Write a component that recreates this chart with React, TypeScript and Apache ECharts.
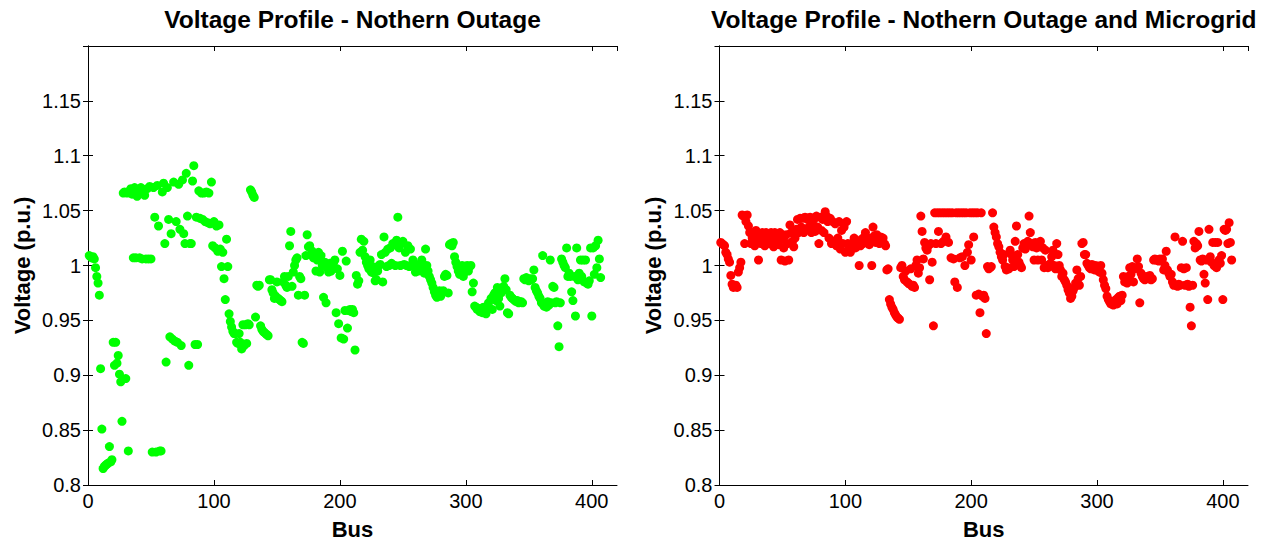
import React, { useEffect, useRef } from "react";
import * as echarts from "echarts";

// Voltage (p.u.) per bus, bus numbers start at 1
const leftVoltage: number[] = [
  1.009, 1.008, 1.007, 1.008, 1.006, 0.998, 0.99, 0.984, 0.973, 0.906,
  0.851, 0.815, 0.817, 0.818, 0.819, 0.82, 0.835, 0.821, 0.823, 0.93,
  0.909, 0.93, 0.911, 0.918, 0.901, 0.894, 0.858, 1.066, 1.067, 0.897,
  1.066, 0.831, 1.068, 1.07, 1.065, 1.007, 1.071, 1.007, 1.063, 1.069,
  1.007, 1.071, 1.006, 1.068, 1.064, 1.006, 1.07, 1.006, 1.072, 1.006,
  0.83, 1.071, 1.044, 0.83, 1.073, 1.036, 0.831, 0.831, 1.067, 1.075,
  1.02, 0.912, 1.071, 1.042, 0.935, 1.029, 0.933, 1.076, 0.931, 1.04,
  0.93, 1.074, 1.033, 0.927, 1.078, 1.029, 1.02, 1.084, 1.045, 0.909,
  1.02, 1.02, 1.077, 1.091, 0.928, 1.044, 0.928, 1.068, 1.043, 1.066,
  1.042, 1.066, 1.04, 1.067, 1.039, 1.066, 1.038, 1.076, 1.018, 1.04,
  1.016, 1.036, 1.013, 1.037, 1.015, 0.999, 1.012, 0.988, 0.969, 1.024,
  0.999, 0.956, 0.949, 0.944, 0.94, 0.938, 0.938, 0.93, 0.929, 0.938,
  0.93, 0.924, 0.946, 0.927, 0.946, 0.929, 0.947, 0.946, 1.069, 1.067,
  1.064, 1.062, 0.953, 0.982, 0.981, 0.982, 0.945, 0.942, 0.94, 0.939,
  0.938, 0.937, 0.936, 0.987, 0.987, 0.978, 0.975, 0.97, 0.972, 0.985,
  0.97, 0.969, 0.968, 0.967, 0.985, 0.99, 0.982, 0.98, 0.99, 1.018,
  1.031, 0.981, 0.994, 1.0, 1.005, 1.007, 0.973, 0.99, 0.988, 0.93,
  0.929, 0.973, 1.009, 1.028, 1.017, 1.018, 1.01, 1.013, 1.007, 1.01,
  0.995, 1.005, 1.012, 0.994, 1.009, 1.0, 0.971, 1.003, 0.966, 0.998,
  0.994, 1.002, 0.995, 0.999, 1.003, 1.005, 0.957, 0.997, 0.947, 0.991,
  0.934, 1.013, 0.933, 0.959, 1.004, 0.943, 0.959, 0.96, 0.958, 0.96,
  0.957, 0.923, 0.991, 0.983, 0.986, 1.012, 1.024, 1.014, 1.022, 1.008,
  1.003, 1.0, 0.997, 1.005, 0.994, 0.999, 0.993, 0.986, 0.987, 0.995,
  1.0, 1.001, 1.01, 0.985, 1.026, 1.012, 0.999, 1.015, 1.0, 1.016,
  1.002, 1.02, 1.019, 1.0, 1.023, 1.044, 1.016, 1.0, 1.02, 1.022,
  1.001, 1.012, 1.0, 1.018, 0.999, 1.015, 1.0, 1.005, 1.0, 0.994,
  0.996, 0.995, 1.0, 1.002, 1.005, 0.996, 0.993, 1.015, 1.0, 0.995,
  0.99, 0.987, 0.984, 0.98, 0.976, 0.973, 0.971, 0.974, 0.977, 0.972,
  0.975, 0.977, 0.99, 0.992, 0.991, 0.975, 1.019, 1.02, 1.018, 1.021,
  1.008, 1.003, 0.999, 0.995, 0.992, 0.997, 1.0, 0.99, 0.994, 0.998,
  1.0, 0.995, 0.999, 1.0, 0.976, 0.984, 0.963, 0.962, 0.96, 0.961,
  0.958, 0.96, 0.957, 0.962, 0.958, 0.956, 0.963, 0.966, 0.961, 0.97,
  0.96, 0.973, 0.975, 0.968, 0.98, 0.97, 0.963, 0.975, 0.978, 0.981,
  0.988, 0.978, 0.957, 0.956, 0.973, 0.971, 0.97, 0.969, 0.968, 0.967,
  0.968, 0.966, 0.967, 0.967, 0.966, 0.988, 0.987, 0.989, 0.988, 0.986,
  0.988, 0.987, 0.988, 0.996, 0.98, 0.977, 0.975, 0.972, 0.97, 0.966,
  1.009, 0.963, 0.965, 0.962, 0.967, 0.964, 1.005, 0.966, 0.981, 0.98,
  0.966, 0.967, 0.945, 0.926, 0.966, 1.006, 1.003, 1.0, 0.998, 1.016,
  0.99, 0.993, 0.99, 0.976, 0.968, 0.99, 0.954, 1.016, 0.987, 0.993,
  1.005, 0.99, 1.005, 0.985, 1.005, 0.984, 0.983, 0.986, 1.016, 0.954,
  1.016, 0.992, 1.018, 0.998, 1.023, 1.006, 0.989,
];

const rightVoltage: number[] = [
  1.021, 1.02, 1.019, 1.018, 1.012, 1.01, 1.006, 1.003, 0.991, 0.983,
  0.98, 0.981, 0.982, 0.98, 0.994, 0.998, 1.003, 1.046, 1.045, 1.02,
  1.04, 1.046, 1.036, 1.03, 1.02, 1.025, 1.03, 1.018, 1.032, 1.022,
  1.005, 1.027, 1.02, 1.03, 1.024, 1.018, 1.03, 1.022, 1.028, 1.02,
  1.03, 1.025, 1.017, 1.03, 1.022, 1.028, 1.019, 1.03, 1.005, 1.024,
  1.016, 1.004, 1.028, 1.02, 1.005, 1.037, 1.03, 1.022, 1.017, 1.025,
  1.033, 1.042, 1.03, 1.043, 1.035, 1.043, 1.03, 1.044, 1.033, 1.042,
  1.035, 1.044, 1.03, 1.036, 1.042, 1.031, 1.045, 1.035, 1.02, 1.044,
  1.032, 1.042, 1.03, 1.049, 1.045, 1.04, 1.025, 1.043, 1.02, 1.04,
  1.022, 1.038, 1.018, 1.025, 1.04, 1.015, 1.032, 1.02, 1.035, 1.012,
  1.04, 1.02, 1.016, 1.012, 1.02, 1.018, 1.025, 1.016, 1.022, 1.02,
  1.0, 1.018, 1.024, 1.02, 1.026, 1.03, 1.022, 1.025, 1.019, 1.023,
  1.0, 1.035, 1.027, 1.021, 1.028, 1.024, 1.02, 1.026, 1.022, 1.025,
  1.02, 1.018, 0.996, 0.997, 0.969, 0.965, 0.962, 0.96, 0.957, 0.955,
  0.953, 0.952, 0.951, 0.998, 1.0, 0.99, 0.987, 0.995, 0.985, 0.984,
  0.983, 0.997, 0.981, 0.982, 0.98, 1.0, 1.005, 0.993, 0.998, 1.045,
  1.031, 1.006, 1.021, 1.016, 1.014, 1.018, 0.987, 1.02, 1.003, 0.945,
  1.048, 1.02, 1.048, 1.031, 1.048, 1.02, 1.048, 1.022, 1.048, 1.026,
  1.048, 1.021, 1.048, 1.007, 1.048, 1.006, 0.985, 1.048, 0.98, 1.048,
  1.007, 1.048, 1.008, 1.048, 1.0, 1.048, 1.012, 1.019, 1.048, 1.005,
  1.048, 1.026, 1.048, 0.973, 1.048, 0.974, 0.957, 1.048, 0.972, 0.973,
  0.97, 0.938, 0.999, 0.997, 0.998, 0.999, 1.048, 1.035, 1.03, 1.026,
  1.02, 1.017, 1.012, 1.008, 1.005, 1.01, 0.999, 0.996, 0.998, 0.997,
  1.014, 1.01, 1.005, 0.999, 1.022, 1.036, 1.01, 1.003, 1.0, 0.998,
  1.016, 1.02, 1.015, 1.018, 1.022, 1.045, 1.03, 1.02, 1.017, 1.005,
  1.021, 1.016, 1.005, 1.02, 1.022, 1.005, 1.016, 0.998, 1.014, 1.0,
  0.998, 0.999, 1.002, 1.008, 1.014, 1.0, 0.997, 1.02, 1.01, 1.0,
  0.996, 0.99, 0.993, 0.987, 0.985, 0.982, 0.978, 0.975, 0.97, 0.972,
  0.977, 0.98, 0.984, 0.996, 0.988, 0.982, 0.99, 1.02, 1.021, 1.01,
  1.01, 1.002, 1.0, 0.998, 0.997, 1.001, 0.999, 0.996, 1.0, 0.998,
  0.995, 0.994, 1.0, 0.993, 0.987, 0.982, 0.979, 0.972, 0.969, 0.967,
  0.965, 0.966, 0.964, 0.967, 0.969, 0.965, 0.971, 0.972, 0.968, 0.973,
  0.99, 0.985, 0.987, 0.984, 0.99, 0.998, 0.992, 0.999, 0.985, 0.997,
  0.998, 1.006, 0.999, 0.966, 0.993, 0.99, 0.988, 0.987, 0.99, 0.989,
  0.988, 0.991, 0.987, 0.988, 1.005, 1.006, 1.005, 1.005, 1.004, 1.006,
  1.005, 1.006, 0.996, 1.0, 1.013, 0.996, 0.993, 0.99, 0.992, 0.985,
  0.982, 1.026, 0.982, 0.981, 0.983, 0.982, 0.998, 1.022, 0.997, 0.982,
  0.998, 0.983, 0.981, 0.962, 0.945, 0.982, 1.022, 1.016, 1.02, 1.018,
  1.031, 1.005, 1.004, 1.006, 0.992, 0.984, 1.005, 0.969, 1.033, 1.008,
  1.003, 1.021, 1.0, 1.021, 0.998, 1.021, 1.005, 1.002, 1.009, 0.969,
  1.033, 1.032, 1.033, 1.02, 1.039, 1.021, 1.005,
];

const titles = [
  "Voltage Profile - Nothern Outage",
  "Voltage Profile - Nothern Outage and Microgrid",
];
const xAxisName = "Bus";
const yAxisName = "Voltage (p.u.)";
const xRange = [0, 420];
const yRange = [0.8, 1.2];
const colors = ["#00ff00", "#ff0000"];

const FONT = "'Liberation Sans', Arial, Helvetica, sans-serif";

function toPoints(v: number[]) {
  return v.map((y, i) => [i + 1, y]);
}

export default function App() {
  const ref = useRef<HTMLDivElement>(null);
  useEffect(() => {
    if (!ref.current) return;
    const chart = echarts.init(ref.current, undefined, { renderer: "svg" });
    const grids = [
      { left: 88, top: 46, width: 529, height: 440 },
      { left: 719.5, top: 46, width: 528.5, height: 440 },
    ];
    const lineStyle = { color: "#000", width: 1 };
    const xAxes: any[] = [];
    const yAxes: any[] = [];
    grids.forEach((_, gi) => {
      xAxes.push({
        type: "value",
        gridIndex: gi,
        min: xRange[0],
        max: xRange[1],
        interval: 100,
        position: "bottom",
        name: xAxisName,
        nameLocation: "middle",
        nameGap: 33,
        nameTextStyle: { fontFamily: FONT, fontWeight: "bold", fontSize: 22, color: "#000" },
        axisLine: { show: true, lineStyle },
        axisTick: { show: true, inside: true, length: 5, lineStyle },
        axisLabel: { show: true, fontFamily: FONT, fontSize: 20, color: "#000", margin: 6, showMaxLabel: false },
        splitLine: { show: false },
      });
      xAxes.push({
        type: "value",
        gridIndex: gi,
        min: xRange[0],
        max: xRange[1],
        interval: 100,
        position: "top",
        axisLine: { show: true, lineStyle },
        axisTick: { show: true, inside: true, length: 5, lineStyle },
        axisLabel: { show: false },
        splitLine: { show: false },
      });
      yAxes.push({
        type: "value",
        gridIndex: gi,
        min: yRange[0],
        max: yRange[1],
        interval: 0.05,
        position: "left",
        name: yAxisName,
        nameLocation: "middle",
        nameGap: 55,
        nameTextStyle: { fontFamily: FONT, fontWeight: "bold", fontSize: 22, color: "#000" },
        axisLine: { show: true, lineStyle },
        axisTick: { show: true, inside: true, length: 5, lineStyle },
        axisLabel: {
          show: true,
          fontFamily: FONT,
          fontSize: 20,
          color: "#000",
          margin: 7,
          showMaxLabel: false,
          formatter: (v: number) => String(parseFloat(v.toFixed(2))),
        },
        splitLine: { show: false },
      });
      yAxes.push({
        type: "value",
        gridIndex: gi,
        min: yRange[0],
        max: yRange[1],
        interval: 0.05,
        position: "right",
        axisLine: { show: true, lineStyle },
        axisTick: { show: true, inside: true, length: 5, lineStyle },
        axisLabel: { show: false },
        splitLine: { show: false },
      });
    });
    const option: any = {
      animation: false,
      backgroundColor: "#fff",
      title: titles.map((t, i) => ({
        text: t,
        left: grids[i].left + grids[i].width / 2 - 5,
        top: 2,
        textAlign: "center",
        textStyle: { fontFamily: FONT, fontWeight: "bold", fontSize: 24.5, color: "#000" },
      })),
      grid: grids,
      xAxis: xAxes,
      yAxis: yAxes,
      series: [leftVoltage, rightVoltage].map((v, i) => ({
        type: "scatter",
        xAxisIndex: i * 2,
        yAxisIndex: i * 2,
        data: toPoints(v),
        symbol: "circle",
        symbolSize: 9,
        itemStyle: { color: colors[i], opacity: 1 },
      })),
    };
    chart.setOption(option);
    return () => chart.dispose();
  }, []);
  return (
    <div
      ref={ref}
      style={{ position: "fixed", left: 0, top: 0, width: 1271, height: 545, background: "#fff" }}
    />
  );
}
